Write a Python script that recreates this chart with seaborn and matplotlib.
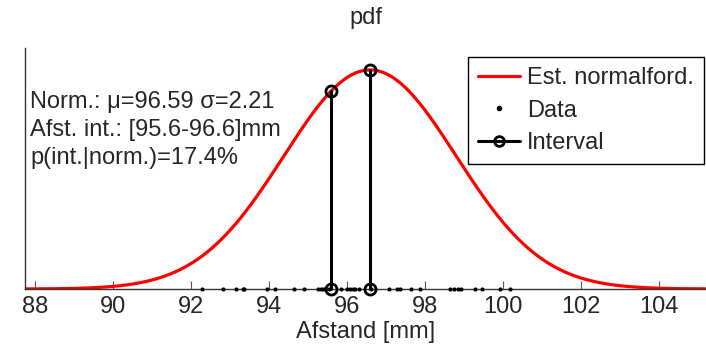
import numpy as np
import pandas as pd
import matplotlib
matplotlib.use('Agg')
import matplotlib.pyplot as plt
from matplotlib.lines import Line2D
from matplotlib.legend_handler import HandlerLine2D
import seaborn as sns

# measured distances [mm]
data = [92.28, 92.82, 93.16, 93.33, 93.37, 93.95, 94.16, 94.65, 94.90,
        95.27, 95.33, 95.38, 95.44, 95.55, 95.84, 96.01, 96.08, 96.15,
        96.21, 96.30, 96.62, 97.07, 97.28, 97.37, 97.64, 97.86, 98.65,
        98.75, 98.84, 98.93, 99.29, 99.46, 99.91, 100.17]
mu = 96.59
sigma = 2.21
interval = [95.6, 96.6]
prob = 17.4
xticks = [88, 90, 92, 94, 96, 98, 100, 102, 104]
xlim = (87.75, 105.2)


class HandlerEndMarker(HandlerLine2D):
    # MATLAB-style legend: marker sits at the right end of the line
    def get_xdata(self, legend, xdescent, ydescent, width, height, fontsize):
        xdata = np.array([-xdescent, -xdescent + width])
        return xdata, np.array([-xdescent + width])


sns.set_theme(style='white')
plt.rcParams['font.family'] = ['Liberation Sans', 'DejaVu Sans']

fig = plt.figure(figsize=(7.06, 3.55), dpi=100)
ax = fig.add_axes([25 / 706, 66 / 355, 681 / 706, 241 / 355])

x = np.linspace(xlim[0], xlim[1], 400)
curve = pd.DataFrame({'x': x,
                      'pdf': np.exp(-0.5 * ((x - mu) / sigma) ** 2) / (sigma * np.sqrt(2 * np.pi))})
sns.lineplot(data=curve, x='x', y='pdf', color='red', linewidth=2.3, ax=ax, zorder=2)

pts = pd.DataFrame({'x': data, 'y': np.zeros(len(data))})
sns.scatterplot(data=pts, x='x', y='y', color='black', s=9, linewidth=0, ax=ax,
                zorder=4, clip_on=False)

for v in interval:
    h = np.exp(-0.5 * ((v - mu) / sigma) ** 2) / (sigma * np.sqrt(2 * np.pi))
    ax.plot([v, v], [0, h], color='black', linewidth=2.2, marker='o', markersize=8,
            markerfacecolor='none', markeredgewidth=2, zorder=5, clip_on=False)

ax.set_xlim(*xlim)
ax.set_ylim(0, 1.1 / (sigma * np.sqrt(2 * np.pi)))
ax.set_xticks(xticks)
ax.set_yticks([])
ax.tick_params(axis='x', direction='in', length=6, width=0.8, color='#555555',
               labelsize=17, pad=5, bottom=True)
for s in ['top', 'right']:
    ax.spines[s].set_visible(False)
for s in ['left', 'bottom']:
    ax.spines[s].set_color('#333333')
    ax.spines[s].set_linewidth(1)
ax.set_xlabel('Afstand [mm]', fontsize=17, labelpad=2)
ax.set_ylabel('')
ax.set_title('pdf', fontsize=17, pad=17)

lines = ['Norm.: \u03bc=%.2f \u03c3=%.2f' % (mu, sigma),
         'Afst. int.: [%.1f-%.1f]mm' % (interval[0], interval[1]),
         'p(int.|norm.)=%.1f%%' % prob]
for i, t in enumerate(lines):
    ax.text(0.008, (289 - 102 - 28 * i) / 241, t, transform=ax.transAxes,
            fontsize=17, va='center', ha='left')

h_norm = Line2D([], [], color='red', linewidth=2.3)
h_data = Line2D([], [], color='black', linestyle='none', marker='o', markersize=3)
h_int = Line2D([], [], color='black', linewidth=2.2, marker='o', markersize=7,
               markerfacecolor='none', markeredgewidth=2)
leg = fig.legend([h_norm, h_data, h_int], ['Est. normalford.', 'Data', 'Interval'],
                 loc='upper right', bbox_to_anchor=(704 / 706, 1 - 57 / 355),
                 fontsize=17, frameon=True, fancybox=False, framealpha=1,
                 edgecolor='black', handlelength=1.8, handletextpad=0.3,
                 labelspacing=0.45, borderpad=0.42, borderaxespad=0,
                 handler_map={h_int: HandlerEndMarker()})
leg.get_frame().set_linewidth(1)

fig.savefig('out.png', dpi=100)
